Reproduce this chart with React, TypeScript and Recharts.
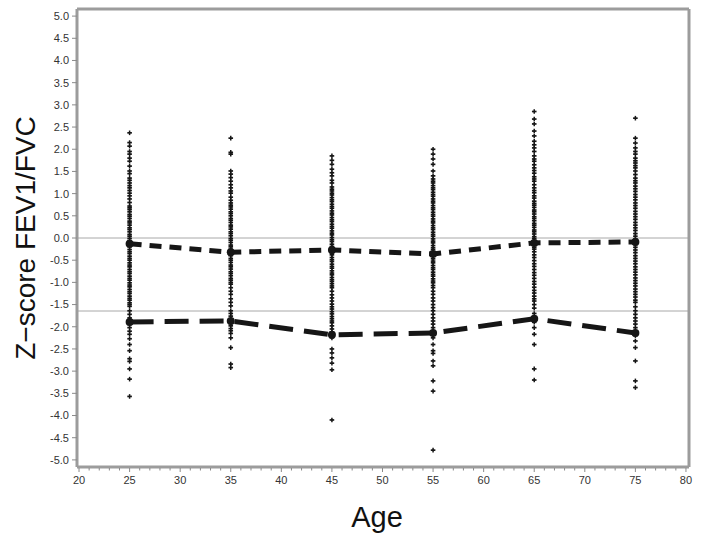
import React from 'react';
import { ScatterChart, Scatter, XAxis, YAxis, ReferenceLine, Label } from 'recharts';

// ---- data ----
const ages = [25, 35, 45, 55, 65, 75];
const meanZ = [-0.13, -0.32, -0.27, -0.36, -0.11, -0.09];
const lowerZ = [-1.89, -1.87, -2.18, -2.14, -1.82, -2.14];
const zeroLine = 0;
const llnLine = -1.645;

const z25 = [2.37, 2.15, 2.07, 1.95, 1.89, 1.8, 1.73, 1.62, 1.51, 1.45, 1.35, 1.3, 1.24, 1.18, 1.13, 1.07, 1.01, 0.95, 0.88, 0.8, 0.72,
  0.68, 0.64, 0.59, 0.53, 0.49, 0.44, 0.38, 0.34, 0.29, 0.23, 0.19, 0.14, 0.08, 0.04, -0.01, -0.06, -0.11, -0.16, -0.2, -0.26, -0.31, -0.35, -0.41, -0.46, -0.5, -0.56, -0.61, -0.65, -0.71, -0.76, -0.8, -0.86, -0.91, -0.95, -1.01, -1.06, -1.1, -1.16, -1.21, -1.25, -1.31, -1.36, -1.4, -1.46, -1.5, -1.54,
  -1.64, -1.72, -1.8, -1.87, -1.95, -2.02, -2.1, -2.17, -2.27, -2.4, -2.54, -2.72, -2.78, -2.95, -3.18, -3.57];
const z35 = [2.25, 1.93, 1.89, 1.51, 1.44, 1.36, 1.28, 1.2, 1.13, 1.06, 1.01, 0.92, 0.85,
  0.79, 0.74, 0.7, 0.65, 0.59, 0.55, 0.5, 0.44, 0.4, 0.35, 0.29, 0.25, 0.2, 0.14, 0.1, 0.05, -0.01, -0.05, -0.1, -0.16, -0.2, -0.25, -0.31, -0.35, -0.4, -0.46, -0.5, -0.55, -0.61, -0.65, -0.7, -0.76, -0.8, -0.85, -0.91, -0.95, -1.0, -1.04,
  -1.12, -1.2, -1.27, -1.37, -1.45, -1.53, -1.64, -1.7, -1.76, -1.83, -1.93, -1.98, -2.04, -2.09, -2.15, -2.25, -2.47, -2.84, -2.92];
const z45 = [1.85, 1.75, 1.66, 1.55, 1.47, 1.4, 1.3, 1.24, 1.15, 1.1,
  1.06, 1.01, 0.97, 0.91, 0.86, 0.82, 0.76, 0.71, 0.67, 0.61, 0.56, 0.52, 0.46, 0.41, 0.37, 0.31, 0.26, 0.22, 0.16, 0.11, 0.07, 0.01, -0.04, -0.08, -0.14, -0.19, -0.23, -0.29, -0.34, -0.38, -0.44, -0.49, -0.53, -0.59, -0.64, -0.68, -0.74, -0.79, -0.83, -0.89, -0.94, -0.98, -1.03, -1.08,
  -1.12, -1.2, -1.28, -1.35, -1.42, -1.49, -1.55, -1.6, -1.66, -1.71, -1.77, -1.82, -1.87, -1.91, -1.98, -2.05, -2.12, -2.25, -2.5, -2.59, -2.7, -2.82, -2.97, -4.1];
const z55 = [2.0, 1.89, 1.78, 1.66, 1.51, 1.4,
  1.33, 1.28, 1.24, 1.18, 1.13, 1.09, 1.03, 0.98, 0.94, 0.88, 0.83, 0.79, 0.73, 0.68, 0.64, 0.58, 0.53, 0.49, 0.43, 0.38, 0.34, 0.28, 0.23, 0.19, 0.13, 0.08, 0.04, -0.02, -0.07, -0.11, -0.17, -0.22, -0.26, -0.32, -0.37, -0.41, -0.47, -0.52, -0.56, -0.62, -0.67, -0.71, -0.77, -0.82, -0.86, -0.92, -0.97, -1.01, -1.07, -1.12,
  -1.2, -1.27, -1.35, -1.42, -1.5, -1.57, -1.64, -1.72, -1.8, -1.87, -1.94, -2.02, -2.09, -2.17, -2.25, -2.4, -2.54, -2.6, -2.77, -2.88, -3.22, -3.45, -4.78];
const z65 = [2.85, 2.68, 2.57, 2.41, 2.3, 2.18, 2.1, 2.03, 1.95, 1.85, 1.78, 1.73, 1.65, 1.58, 1.52, 1.46, 1.38, 1.33, 1.28, 1.2, 1.13, 1.07, 1.02, 0.95, 0.9,
  0.83, 0.78, 0.74, 0.69, 0.63, 0.59, 0.54, 0.48, 0.44, 0.39, 0.33, 0.29, 0.24, 0.18, 0.14, 0.09, 0.03, -0.01, -0.06, -0.12, -0.16, -0.21, -0.25,
  -0.31, -0.38, -0.44, -0.51, -0.58, -0.64, -0.71, -0.78, -0.84, -0.91, -0.98, -1.04, -1.11, -1.18, -1.24, -1.31, -1.37, -1.42,
  -1.5, -1.58, -1.7, -1.8, -1.9, -2.02, -2.17, -2.4, -2.95, -3.2];
const z75 = [2.7, 2.25, 2.14, 2.03, 1.95, 1.89, 1.8, 1.74, 1.69, 1.63, 1.58, 1.51, 1.43, 1.35, 1.29, 1.24,
  1.17, 1.11, 1.05, 0.98, 0.92, 0.86, 0.79, 0.73, 0.67, 0.6, 0.54, 0.48, 0.42, 0.35, 0.29, 0.23, 0.17, 0.1, 0.04, -0.02, -0.08, -0.15, -0.21, -0.27, -0.33, -0.4, -0.46, -0.52, -0.58, -0.65, -0.71, -0.77, -0.83, -0.9, -0.96, -1.02, -1.08, -1.15, -1.21, -1.27, -1.33, -1.4, -1.45,
  -1.55, -1.64, -1.72, -1.8, -1.87, -1.94, -2.02, -2.09, -2.2, -2.32, -2.47, -2.77, -3.22, -3.37];
const zByAge = [z25, z35, z45, z55, z65, z75];

const xMajorTicks = [20, 25, 30, 35, 40, 45, 50, 55, 60, 65, 70, 75, 80];
const yTicks = [5, 4.5, 4, 3.5, 3, 2.5, 2, 1.5, 1, 0.5, 0, -0.5, -1, -1.5, -2, -2.5, -3, -3.5, -4, -4.5, -5];
const xLabel = 'Age';
const yLabel = 'Z\u2212score  FEV1/FVC';

// ---- layout / style ----
const X_DOMAIN: [number, number] = [19.8, 80.3];
const Y_DOMAIN: [number, number] = [-5.16, 5.16];
const FRAME = '#9c9c9c';
const INK = '#161616';
const TICK_COLOR = '#333333';
const TICK_FONT = '"Liberation Sans Narrow", "Liberation Sans", Arial, sans-serif';
const LABEL_FONT = '"Liberation Sans", Arial, sans-serif';
const X_TICK_SIZE = 5;
const X_TICK_MARGIN = 4;

const allXTicks: number[] = [];
for (let v = xMajorTicks[0]; v <= xMajorTicks[xMajorTicks.length - 1]; v += 1) allXTicks.push(v);

const pointData = ages.flatMap((a, i) => zByAge[i].map((z) => ({ x: a, y: z })));
const meanData = ages.map((a, i) => ({ x: a, y: meanZ[i] }));
const lowerData = ages.map((a, i) => ({ x: a, y: lowerZ[i] }));

const PlusShape = (p: any) => {
  const { cx, cy } = p;
  if (cx == null || cy == null) return null;
  const r = 2.3;
  return (
    <g>
      <line x1={cx - r} x2={cx + r} y1={cy} y2={cy} stroke={INK} strokeWidth={1.7} />
      <line x1={cx} x2={cx} y1={cy - r} y2={cy + r} stroke={INK} strokeWidth={1.5} />
    </g>
  );
};

const NodeShape = (p: any) => {
  const { cx, cy } = p;
  if (cx == null || cy == null) return null;
  return <circle cx={cx} cy={cy} r={4} fill={INK} />;
};

const XTick = (p: any) => {
  const { x, y, payload } = p;
  const v = payload.value;
  const major = v % 5 === 0;
  const axisY = y - X_TICK_SIZE - X_TICK_MARGIN;
  return (
    <g>
      <line x1={x} x2={x} y1={axisY + 1} y2={axisY + (major ? 5 : 3.5)} stroke="#8a8a8a" strokeWidth={1} />
      {major && (
        <text x={x} y={y} dy="0.71em" textAnchor="middle" fontSize={11} fontFamily={TICK_FONT} fill={TICK_COLOR}>
          {v}
        </text>
      )}
    </g>
  );
};

const YTick = (p: any) => {
  const { x, y, payload } = p;
  return (
    <text x={x} y={y} dy="0.355em" textAnchor="end" fontSize={11} fontFamily={TICK_FONT} fill={TICK_COLOR}>
      {Number(payload.value).toFixed(1)}
    </text>
  );
};

const YLabelContent = (p: any) => {
  const vb = p.viewBox || {};
  const cx = vb.x + 25;
  const cy = vb.y + vb.height / 2;
  return (
    <text x={cx} y={cy} transform={`rotate(-90, ${cx}, ${cy})`} textAnchor="middle" dominantBaseline="central"
      fontSize={28} fontFamily={LABEL_FONT} fill="#111">
      {yLabel}
    </text>
  );
};

const XLabelContent = (p: any) => {
  const vb = p.viewBox || {};
  return (
    <text x={vb.x + vb.width / 2 - 6} y={vb.y + 60} textAnchor="middle" fontSize={29} fontFamily={LABEL_FONT} fill="#111">
      {xLabel}
    </text>
  );
};

export default function App() {
  return (
    <div style={{ position: 'absolute', left: 0, top: 0, width: 701, height: 541, background: '#fff' }}>
      <ScatterChart width={701} height={541} margin={{ top: 9, right: 12, bottom: 0, left: 0 }}>
        <XAxis
          type="number"
          dataKey="x"
          domain={X_DOMAIN}
          allowDataOverflow
          ticks={allXTicks}
          interval={0}
          height={74}
          tickSize={X_TICK_SIZE}
          tickMargin={X_TICK_MARGIN}
          tickLine={false}
          tick={<XTick />}
          axisLine={{ stroke: FRAME, strokeWidth: 3 }}
        >
          <Label content={<XLabelContent />} />
        </XAxis>
        <YAxis
          type="number"
          dataKey="y"
          domain={Y_DOMAIN}
          allowDataOverflow
          ticks={yTicks}
          interval={0}
          width={77}
          tickSize={5}
          tickMargin={3}
          tick={<YTick />}
          tickLine={{ stroke: '#8a8a8a' }}
          axisLine={{ stroke: FRAME, strokeWidth: 3 }}
        >
          <Label content={<YLabelContent />} />
        </YAxis>
        <ReferenceLine y={zeroLine} stroke="#a8a8a8" strokeWidth={1} />
        <ReferenceLine y={llnLine} stroke="#a8a8a8" strokeWidth={1} />
        <ReferenceLine y={Y_DOMAIN[1]} stroke={FRAME} strokeWidth={3} />
        <ReferenceLine x={X_DOMAIN[1]} stroke={FRAME} strokeWidth={3} />
        <Scatter data={pointData} shape={<PlusShape />} isAnimationActive={false} />
        <Scatter
          data={meanData}
          shape={<NodeShape />}
          line={{ stroke: INK, strokeWidth: 5, strokeDasharray: '12 8' }}
          isAnimationActive={false}
        />
        <Scatter
          data={lowerData}
          shape={<NodeShape />}
          line={{ stroke: INK, strokeWidth: 5, strokeDasharray: '24 11' }}
          isAnimationActive={false}
        />
      </ScatterChart>
    </div>
  );
}
